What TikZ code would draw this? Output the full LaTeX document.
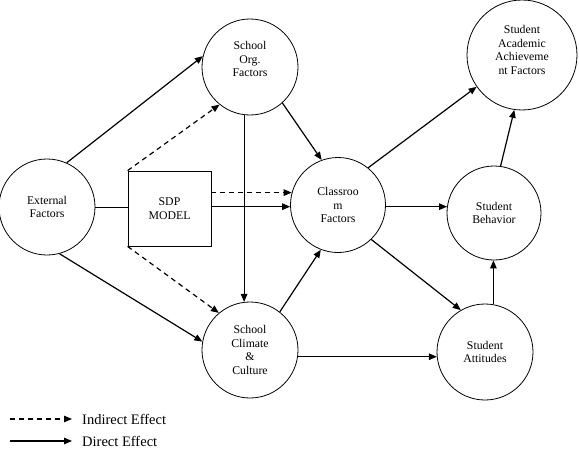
\documentclass[tikz,border=0pt]{standalone}
\usepackage{fontspec}
\setmainfont{Liberation Serif}
\usetikzlibrary{arrows.meta,calc}
\begin{document}
\begin{tikzpicture}[x=1pt,y=-1pt,
  circ/.style={draw,circle,line width=0.8pt,inner sep=0pt,align=center,font=\fontsize{11.8}{13.4}\selectfont},
  lbl/.style={align=center,font=\fontsize{11.8}{13.4}\selectfont,inner sep=0pt},
  legtext/.style={anchor=west,inner sep=0pt,font=\fontsize{14.5}{16}\selectfont},
  arr/.style={line width=1.2pt,-{Triangle[length=8pt,width=6.5pt]}},
  darr/.style={arr,dash pattern=on 5pt off 4pt},
  plain/.style={line width=0.8pt},
]
\useasboundingbox (0,0) rectangle (579,455);
% circles
\node[circ,minimum size=96pt] (ext) at (47,207) {External\\Factors};
\node[circ,minimum size=96pt] (org) at (250,67) {};
\node[lbl] (orgt) at (250,59) {School\\Org.\\Factors};
\node[circ,minimum size=96pt] (clim) at (250,350) {School\\Climate\\\&\\Culture};
\node[circ,minimum size=95pt] (class) at (338,205) {Classroo\\m\\Factors};
\node[circ,minimum size=110pt] (acad) at (522,55) {};
\node[lbl] (acadt) at (522,50) {Student\\Academic\\Achieveme\\nt Factors};
\node[circ,minimum size=94pt] (beh) at (494,213) {Student\\Behavior};
\node[circ,minimum size=96pt] (att) at (485,352) {Student\\Attitudes};
% SDP box
\node[draw,line width=0.8pt,minimum width=83pt,minimum height=75pt,lbl] (box) at (169.5,208.5) {SDP\\MODEL};
% connectors
\draw[plain] (ext.0) -- (ext.0 -| box.west);
\draw[arr] (ext.66) -- (org.167);
\draw[arr] (ext.-75) -- (clim.170);
\draw[darr] (box.north west) -- (org.231);
\draw[darr] (box.south west) -- (clim.130);
\draw[darr] (box.east |- class.165.4) -- (class.165.4);
\draw[arr] (box.east |- class.182.5) -- (class.182.5);
\draw[arr] (org.263) -- (clim.97);
\draw[arr] (org.-48) -- (class.110);
\draw[arr] (clim.52) -- (class.249);
\draw[arr] (clim.-8) -- (clim.-8 -| att.186);
\draw[arr] (class.51) -- (acad.215);
\draw[arr] (class.-2) -- (class.-2 -| beh.188);
\draw[arr] (class.-46) -- (att.120);
\draw[arr] (att.80) -- (att.80 |- beh.south);
\draw[arr] (beh.82) -- (acad.262);
% legend
\node[legtext] (t1) at (82,419) {Indirect Effect};
\node[legtext] (t2) at (82,441) {Direct Effect};
\coordinate (l1) at (10,419);
\coordinate (l2) at (10,441);
\draw[darr] (l1) -- ([xshift=-10pt]t1.west);
\draw[arr] (l2) -- ([xshift=-10pt]t2.west);
\end{tikzpicture}
\end{document}
